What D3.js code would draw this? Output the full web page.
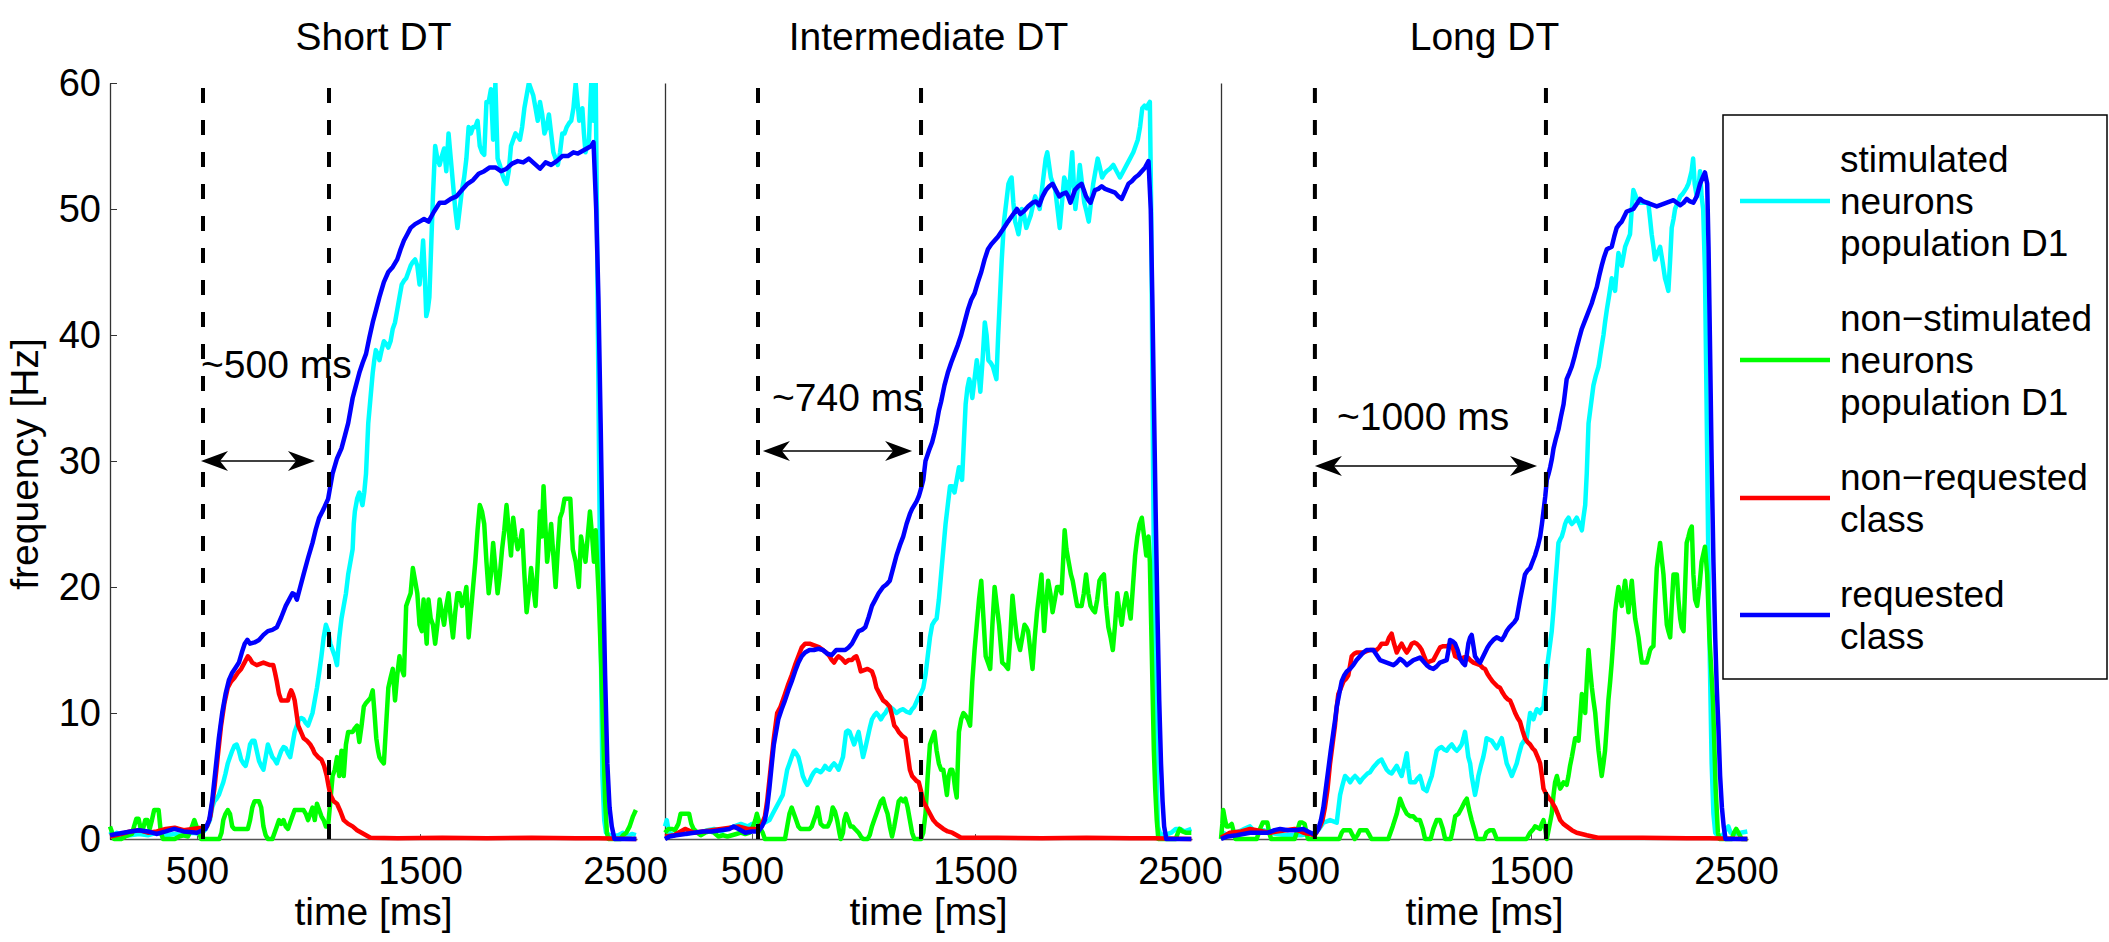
<!DOCTYPE html>
<html lang="en">
<head>
<meta charset="UTF-8" />
<title>Population firing rates for three decision times</title>
<script src="https://d3js.org/d3.v7.min.js"></script>
<style>
  body { margin: 0; background: #fff; }
  svg { display: block; font-family: "Liberation Sans", Arial, Helvetica, sans-serif; }
</style>
</head>
<body>
<svg id="chart" width="2109" height="942"></svg>
<script>
const panelTitles = ["Short DT", "Intermediate DT", "Long DT"];
const timeTicks = [500, 1500, 2500];
const freqTicks = [0, 10, 20, 30, 40, 50, 60];
const legendLabels = [
  ["stimulated", "neurons", "population D1"],
  ["non\u2212stimulated", "neurons", "population D1"],
  ["non\u2212requested", "class"],
  ["requested", "class"]
];
const seriesColors = ["#00ffff", "#00ff00", "#ff0000", "#0000ff"];

// decision-time markers and annotations, one entry per panel
const dtStart = [527, 527, 531];
const dtEnd = [1092, 1258, 1567];
const dtLabels = ["~500 ms", "~740 ms", "~1000 ms"];
const arrowFrom = [518, 549, 531];
const arrowTo = [1029, 1218, 1527];
const arrowFreq = [30, 30.8, 29.6];
const labelTime = [518, 590, 630];
const labelFreq = [36.6, 34, 32.5];

// ---- Short DT ----
const shortStim = [[110,0.6],[125,0.3],[140,0.5],[160,0.2],[200,0.3],[240,0.4],[280,0.3],[320,0.5],[360,0.3],[400,0.4],[440,0.3],[480,0.5],[520,0.4],[540,0.8],[558,1.5],[568,2.5],[578,3],[588,3.2],[598,3.5],[608,4],[618,4.5],[628,5.2],[638,6],[648,6.5],[658,7],[668,7.4],[678,7.5],[688,7],[698,6.3],[708,6],[718,5.8],[728,6.5],[738,7.5],[748,7.8],[758,7.8],[768,7],[778,6.2],[788,5.8],[798,5.5],[808,6.5],[818,7.5],[828,7],[838,6.5],[848,6.3],[858,6],[868,6.5],[878,7],[888,7.3],[898,7.2],[908,6.8],[918,6.5],[928,7.5],[938,8.5],[948,9],[958,9.5],[968,9.6],[978,9.5],[988,9.2],[998,9],[1008,9.5],[1018,10],[1028,11],[1038,12],[1048,13.2],[1058,14.5],[1068,16],[1078,17],[1088,16.5],[1098,15.5],[1108,15],[1118,14.5],[1128,13.8],[1133,15],[1138,16],[1148,17.5],[1158,18.5],[1168,19.5],[1178,21],[1188,22],[1198,23],[1203,25],[1208,26],[1218,27],[1228,27.5],[1235,27],[1242,26.5],[1250,27.5],[1258,29],[1263,31],[1268,33],[1278,35],[1288,37],[1295,38],[1302,38.8],[1310,38.5],[1318,38],[1328,38.8],[1338,39.5],[1348,39.3],[1358,39],[1368,39.5],[1378,40.5],[1388,41],[1398,42],[1408,43],[1418,44],[1428,44.3],[1438,44.5],[1448,45],[1458,45.5],[1468,45.8],[1478,46],[1488,45.5],[1498,44],[1506,45.5],[1514,47.5],[1521,45],[1528,41.5],[1535,42],[1542,43],[1550,47],[1558,51],[1563,53],[1568,55],[1578,54],[1588,53.5],[1598,54.2],[1608,54.8],[1618,53],[1628,56],[1638,54],[1648,52],[1658,50],[1668,48.5],[1678,50],[1688,51.5],[1698,52.5],[1708,54],[1718,56.5],[1728,56],[1738,56.5],[1748,56.5],[1758,57],[1768,55],[1778,54.5],[1788,54.3],[1798,58.5],[1808,58.5],[1818,59.5],[1828,55.5],[1838,60],[1848,54],[1858,53.5],[1868,52.8],[1878,52.3],[1888,52],[1898,53],[1908,55],[1918,55.5],[1928,56],[1938,55.8],[1948,55.5],[1958,56.5],[1968,58],[1978,59],[1988,60],[1998,59.5],[2008,59],[2018,58],[2028,57],[2038,58.5],[2048,57.5],[2058,56],[2068,56.5],[2078,57.5],[2088,56],[2098,54.5],[2108,54],[2118,53.5],[2128,54.5],[2138,56],[2148,56],[2158,56.5],[2168,56.8],[2178,57],[2188,58],[2198,60],[2206,58.5],[2214,57],[2221,57.5],[2228,58],[2235,56],[2242,54.5],[2250,55],[2258,55.5],[2263,58],[2268,60],[2273,58],[2278,57],[2283,59],[2288,60],[2293,50],[2298,40],[2303,30],[2308,20],[2313,12],[2318,5],[2326,1.5],[2334,0.5],[2360,0.2],[2390,0.3],[2410,0.5],[2430,0.2],[2450,0.4],[2468,0.3]];
const shortNonStim = [[110,1],[120,0.5],[128,0],[160,0],[178,0.2],[208,0.4],[218,1],[228,1.6],[238,1.6],[248,0.8],[258,0.8],[268,1.5],[278,1.5],[288,0.8],[298,1.5],[308,2.3],[322,2.3],[328,2.3],[338,0.5],[348,0],[380,0],[400,0],[420,0.2],[440,0.3],[460,0.2],[478,1],[488,1.5],[498,1],[508,0.7],[518,0],[560,0],[600,0],[610,0.5],[618,1.5],[628,2],[638,2.3],[648,2],[658,1],[668,0.8],[688,0.8],[708,0.8],[728,0.8],[738,1.5],[748,2.5],[758,3],[768,3],[778,3],[788,2.5],[798,1],[808,0.3],[818,0],[838,0],[848,0.5],[858,1],[868,1.5],[878,1.2],[888,1.5],[898,1],[908,0.8],[918,1.3],[928,1.8],[938,2.3],[948,2.3],[958,2.3],[968,2.3],[978,2.3],[988,2],[998,1.5],[1008,2],[1018,2.5],[1028,1.5],[1038,2.8],[1048,2.3],[1058,1.8],[1068,1.5],[1078,1],[1088,1],[1098,3],[1108,5],[1118,5.5],[1128,6.5],[1138,5],[1148,7],[1158,5],[1168,7.5],[1178,8.5],[1188,8.5],[1198,8.5],[1208,8.8],[1218,9],[1228,7.7],[1238,9],[1248,10.5],[1258,10.8],[1268,11],[1278,11.2],[1288,11.8],[1296,10],[1304,8],[1312,7],[1318,6.5],[1328,6.2],[1338,6],[1348,9],[1358,12],[1368,12.8],[1378,13.5],[1388,11],[1398,13],[1408,14.5],[1418,13.5],[1428,13],[1438,18.5],[1448,19],[1458,19.5],[1468,21.5],[1478,20.5],[1488,19.5],[1498,17],[1508,16.5],[1516,19],[1524,17],[1530,15.5],[1538,19],[1548,17.5],[1558,17],[1568,15.5],[1578,17],[1588,19],[1598,18],[1608,17],[1618,18.5],[1628,19.5],[1638,17.5],[1648,16],[1658,18],[1668,19.5],[1678,19.5],[1688,18.5],[1698,19],[1708,20],[1718,16],[1728,18],[1738,20],[1748,22],[1758,24.5],[1768,26.5],[1778,26],[1788,25],[1798,22],[1808,19.5],[1818,21],[1828,23.5],[1838,21.5],[1848,19.5],[1858,21],[1868,23],[1878,24.5],[1888,26.5],[1898,24.5],[1908,22.5],[1918,25.5],[1928,24],[1938,23],[1948,23.5],[1958,24.5],[1968,21],[1978,18],[1988,19.5],[1998,21.5],[2008,20],[2018,18.5],[2028,22],[2038,26],[2046,24],[2054,28],[2062,25],[2070,22],[2080,23.5],[2088,25],[2098,22.5],[2108,20],[2118,23],[2128,25.5],[2138,26],[2148,27],[2160,27],[2174,27],[2185,23],[2198,22],[2205,21],[2212,20],[2222,24],[2232,23],[2242,22],[2252,24],[2262,26],[2272,24],[2280,22],[2288,24.5],[2294,22],[2302,19],[2312,14],[2322,8],[2330,3],[2338,0.5],[2345,0],[2400,0],[2410,0.3],[2425,0.5],[2440,1],[2455,1.8],[2468,2.3]];
const shortNonReq = [[110,0.2],[160,0.4],[200,0.6],[240,0.7],[280,0.5],[320,0.6],[360,0.8],[400,0.9],[440,0.7],[480,0.8],[520,0.9],[545,1],[560,1.8],[578,4],[593,6.5],[608,9],[623,10.8],[638,12],[653,12.5],[668,12.8],[683,13.2],[698,13.5],[713,14],[728,14.5],[738,14.3],[748,14],[758,13.9],[768,13.8],[783,13.9],[798,14],[813,13.9],[828,13.8],[842,13.8],[850,13.2],[858,12.5],[868,11.5],[878,11],[893,11],[908,11],[915,11.5],[922,11.8],[930,11.5],[938,11],[946,10],[954,9],[966,8.5],[978,8],[993,7.8],[1008,7.5],[1018,7.2],[1028,6.8],[1043,6.5],[1058,6.3],[1070,5.8],[1082,5],[1090,4.2],[1098,3.5],[1113,3],[1128,2.8],[1143,2.2],[1158,1.5],[1178,1.2],[1198,1],[1218,0.7],[1238,0.5],[1258,0.3],[1278,0.1],[1400,0.05],[1600,0.1],[1800,0.05],[2000,0.1],[2200,0.05],[2300,0.05],[2470,0]];
const shortReq = [[110,0.3],[170,0.5],[238,0.7],[280,0.6],[318,0.4],[360,0.6],[398,0.8],[440,0.6],[500,0.5],[538,0.8],[555,1.5],[568,3],[583,5.5],[598,8],[613,10],[628,11.5],[643,12.6],[658,13.2],[673,13.6],[688,14],[701,14.8],[714,15.5],[726,15.8],[738,15.5],[758,15.6],[778,15.8],[798,16.2],[818,16.5],[838,16.6],[858,16.8],[878,17.6],[898,18.5],[913,19],[928,19.5],[938,19.4],[948,19],[963,20],[978,21],[998,22.3],[1018,23.5],[1033,24.6],[1048,25.5],[1068,26.2],[1088,27],[1098,28],[1108,29],[1128,30.2],[1148,31],[1163,32],[1178,33],[1188,34],[1198,35],[1213,36],[1228,37],[1243,37.8],[1258,38.5],[1273,39.8],[1288,41],[1303,42],[1318,43],[1338,44.2],[1358,45],[1378,45.4],[1398,46],[1413,46.8],[1428,47.5],[1443,48],[1458,48.5],[1478,48.8],[1498,49],[1518,49.2],[1538,49],[1563,49.8],[1588,50.5],[1613,50.5],[1638,50.8],[1663,51],[1688,51.5],[1713,52],[1738,52.3],[1763,52.8],[1788,53],[1813,53.3],[1838,53.3],[1863,53],[1888,53.2],[1913,53.6],[1938,53.8],[1963,53.7],[1988,54],[2013,53.6],[2038,53.2],[2063,53.7],[2088,53.5],[2113,53.8],[2138,54.2],[2163,54.2],[2188,54.5],[2208,54.4],[2228,54.6],[2248,54.8],[2268,55],[2278,55.3],[2290,50],[2300,43],[2310,33],[2320,22],[2330,13],[2340,6],[2350,2.5],[2360,1],[2372,0],[2470,0]];

// ---- Intermediate DT ----
const interStim = [[110,1],[118,1.5],[128,0.5],[150,0.3],[180,0.5],[210,0.4],[240,0.6],[270,0.5],[300,0.7],[330,0.8],[360,0.6],[390,0.8],[420,1],[450,1.2],[480,1],[500,1.2],[520,1.2],[538,1.2],[558,1.3],[578,1.5],[593,2],[608,2.5],[623,3],[638,3.5],[648,4.5],[658,5.5],[668,6],[678,6.5],[688,7],[698,6.8],[708,6.5],[718,5.8],[728,5],[738,4.6],[748,4.3],[758,4.6],[768,5],[778,5.3],[788,5.5],[798,5.4],[808,5.3],[818,5.5],[828,5.8],[838,5.6],[848,5.5],[858,5.8],[868,6],[878,5.8],[888,5.5],[898,6],[908,6.5],[915,7.5],[922,8.5],[930,8.6],[938,8.5],[948,8],[958,7.5],[968,8],[978,8.5],[988,7.5],[998,6.5],[1008,7.2],[1018,8],[1028,8.8],[1038,9.5],[1048,9.8],[1058,10],[1068,9.8],[1078,9.5],[1088,9.8],[1098,10],[1108,10.3],[1118,10.5],[1133,10.3],[1148,10],[1163,10.2],[1178,10.3],[1193,10.1],[1208,10],[1218,10.3],[1228,10.5],[1238,10.9],[1248,11.3],[1258,11.6],[1268,12],[1278,13],[1288,14.5],[1298,16],[1308,17],[1318,17.3],[1328,17.5],[1338,19],[1348,21],[1358,23],[1368,25],[1378,26.5],[1388,28],[1398,28],[1408,27.5],[1418,28.5],[1428,29.5],[1435,29],[1442,28.5],[1450,31.5],[1458,34.5],[1466,35.8],[1474,36.5],[1481,36],[1488,35],[1498,36.5],[1508,38],[1516,37],[1524,35.5],[1534,38],[1544,41],[1552,40],[1560,38],[1570,37.8],[1580,37.5],[1588,37],[1596,36.5],[1604,40],[1612,43],[1620,46],[1630,49],[1640,50.5],[1650,52],[1657,52.3],[1664,52.5],[1672,50.5],[1680,49],[1688,48.5],[1695,48],[1703,49],[1710,50],[1720,49.5],[1730,48.5],[1740,49],[1750,49.5],[1760,50.3],[1770,51],[1780,50.5],[1790,50],[1800,51.5],[1810,53],[1817,54],[1824,54.5],[1832,53.5],[1840,52.5],[1850,52],[1860,51.5],[1870,50],[1880,48.5],[1890,50.5],[1900,52.5],[1910,52],[1920,51],[1928,52.8],[1936,54.5],[1943,52],[1950,50],[1960,51.5],[1970,53.5],[1980,52],[1990,50.5],[2000,49.8],[2010,49],[2020,50.5],[2030,52],[2040,53],[2050,54],[2060,53.3],[2070,52.5],[2080,52.8],[2090,53],[2105,53.2],[2120,53.5],[2135,53],[2150,52.5],[2165,53],[2180,53.5],[2195,54],[2210,54.5],[2220,55],[2230,55.5],[2240,56.5],[2250,58],[2260,58.2],[2270,58],[2277,58.3],[2284,58.5],[2290,50],[2296,35],[2303,20],[2310,10],[2316,4],[2320,1],[2330,0.4],[2350,0.3],[2380,0.5],[2400,0.8],[2420,0.8],[2440,0.6],[2470,0.8]];
const interNonStim = [[110,0.5],[125,0.8],[140,0.8],[155,0.7],[170,1.2],[180,2],[190,2],[205,2],[218,2],[228,1.2],[238,0.8],[255,0.5],[270,0.3],[290,0.5],[310,0.6],[330,0.5],[350,0.2],[370,0.3],[390,0.2],[410,0.3],[430,0.4],[450,0.5],[470,0.4],[490,0.5],[505,1],[515,1.5],[522,2],[530,1.5],[538,0.8],[548,0.5],[558,0],[578,0],[610,0],[648,0],[658,1],[668,2],[678,2.5],[688,2],[698,1.5],[708,1],[718,0.8],[738,0.8],[758,0.8],[768,1],[778,1.5],[788,2],[794,2.5],[800,2],[808,1.2],[820,1],[840,1],[852,1.5],[862,2.5],[872,2.2],[882,1.5],[892,0.5],[898,0],[908,0.5],[914,1.5],[922,2],[932,1.5],[942,1],[952,1],[962,0.8],[978,0.5],[988,0.2],[998,0],[1018,0],[1028,0.3],[1038,1],[1048,1.5],[1058,2],[1068,2.5],[1078,3],[1088,3.2],[1098,2.5],[1108,2],[1118,1],[1128,0.2],[1138,1],[1148,2],[1158,3],[1168,3.2],[1178,3],[1188,3.2],[1198,2.5],[1208,1.5],[1218,0.5],[1228,0],[1258,0],[1268,0.5],[1278,2],[1288,5],[1298,7.5],[1308,8],[1318,8.5],[1328,7],[1338,6],[1348,5.5],[1358,5.5],[1366,4.5],[1374,3.5],[1382,5],[1390,5.5],[1398,5.5],[1404,5],[1411,4],[1418,3.3],[1423,6],[1428,8.5],[1438,9.5],[1448,10],[1458,9.8],[1468,9.5],[1478,9],[1488,12.5],[1498,15],[1508,17],[1518,19],[1528,20.5],[1538,17.5],[1548,14.5],[1558,14],[1568,13.5],[1578,17],[1588,20],[1598,18.5],[1608,17],[1615,15.5],[1622,14],[1635,13.8],[1648,13.5],[1658,16],[1668,19.3],[1678,17.5],[1688,16],[1702,15],[1712,16],[1722,17],[1730,16.8],[1738,16.5],[1748,15],[1758,13.5],[1768,16],[1778,18],[1788,19.5],[1798,21],[1804,18.5],[1810,16.5],[1818,18.5],[1828,20.5],[1838,19.5],[1848,18],[1858,19],[1868,20],[1878,20],[1888,19.5],[1895,22],[1902,24.5],[1910,23],[1920,22],[1930,21],[1938,20.5],[1948,19.5],[1958,18.5],[1968,18.5],[1978,18.5],[1988,19.5],[1998,21],[2008,19.5],[2018,18.5],[2028,18.2],[2038,18],[2048,19],[2058,20.5],[2068,20.8],[2078,21],[2088,18.5],[2098,16.8],[2108,16],[2118,15],[2128,17],[2138,19.5],[2148,18],[2158,17],[2168,18.5],[2178,19.5],[2188,18.5],[2198,17.5],[2208,20],[2218,22.5],[2228,24],[2238,25],[2248,25.5],[2258,24],[2268,22.5],[2278,24],[2284,22],[2290,17],[2296,12],[2302,7],[2308,4],[2315,1.5],[2322,0],[2400,0],[2410,0.5],[2418,0.8],[2430,0.6],[2445,0.5],[2470,0.5]];
const interNonReq = [[110,0.2],[150,0.3],[200,0.8],[240,0.5],[280,0.6],[320,0.7],[360,0.8],[400,0.9],[440,1],[480,0.8],[520,0.8],[545,1.2],[558,1.8],[568,3],[583,5.5],[598,8],[613,10],[628,10.5],[648,11.5],[663,12.3],[678,13],[693,13.8],[708,14.5],[723,15.2],[738,15.5],[758,15.5],[773,15.4],[788,15.3],[803,15.2],[818,15],[833,14.8],[848,14.5],[858,14.2],[868,14],[878,14.3],[888,14.5],[903,14.3],[918,14],[933,14.2],[948,14.2],[958,14.4],[968,14.5],[978,14],[988,13.3],[1003,13.4],[1018,13.5],[1028,13.4],[1038,13.3],[1048,12.8],[1058,12],[1073,11.5],[1088,11],[1103,10.8],[1118,10.5],[1128,9.8],[1138,9],[1148,8.8],[1158,8.5],[1173,8.2],[1188,8],[1198,6.8],[1208,5.5],[1218,5],[1228,4.8],[1238,4.6],[1248,4.5],[1258,3.8],[1268,3],[1283,2.5],[1298,2],[1313,1.5],[1328,1.2],[1343,1],[1358,0.8],[1378,0.6],[1398,0.5],[1418,0.3],[1438,0.1],[1600,0.1],[1800,0.05],[2000,0.1],[2200,0.05],[2300,0.05],[2470,0]];
const interReq = [[110,0],[130,0.2],[160,0.3],[200,0.4],[240,0.5],[280,0.6],[320,0.6],[360,0.7],[400,0.8],[418,1],[440,0.8],[470,0.5],[500,0.6],[528,0.6],[545,1],[558,1.5],[568,2.5],[578,4],[588,5.8],[598,7.5],[608,8.5],[618,9.5],[633,10.3],[648,11],[663,11.8],[678,12.5],[693,13.3],[708,14],[723,14.5],[738,14.8],[758,15],[778,15],[798,15.1],[818,15],[838,14.7],[858,14.6],[878,15],[898,15],[918,15],[933,15.2],[948,15.5],[963,16],[978,16.5],[993,16.6],[1008,16.8],[1023,17.6],[1038,18.5],[1053,19],[1068,19.5],[1088,20],[1103,20.2],[1118,20.5],[1133,21.5],[1148,22.5],[1163,23.3],[1178,24],[1193,25],[1208,25.8],[1218,26.2],[1228,26.5],[1238,26.8],[1248,27.2],[1258,27.8],[1268,28.5],[1278,30],[1293,30.8],[1308,31.5],[1318,32.2],[1328,33],[1338,34],[1348,34.7],[1363,36],[1378,37],[1393,37.8],[1408,38.5],[1423,39.2],[1438,40],[1453,41],[1468,42],[1483,42.8],[1498,43.3],[1513,44.2],[1528,45],[1543,46],[1558,46.8],[1573,47.2],[1588,47.5],[1603,47.8],[1618,48.2],[1633,48.6],[1648,49],[1668,49.5],[1688,50],[1703,49.6],[1718,49.8],[1738,50.2],[1758,50.5],[1773,50.6],[1788,50.3],[1803,51],[1818,51.5],[1833,51.8],[1848,52],[1863,51.5],[1878,51],[1893,51.2],[1908,51.3],[1918,51],[1928,50.5],[1938,51],[1948,51.5],[1963,51.8],[1978,52],[1988,51.5],[1998,51],[2008,50.7],[2018,50.5],[2028,51],[2038,51.5],[2053,51.6],[2068,51.8],[2083,51.6],[2098,51.5],[2113,51.4],[2128,51.3],[2143,51],[2158,50.8],[2173,51.4],[2188,52],[2203,52.2],[2218,52.5],[2233,52.7],[2248,53],[2263,53.3],[2278,53.8],[2288,50],[2295,43],[2302,35],[2310,26],[2318,18],[2326,11],[2334,6],[2341,3],[2348,1],[2358,0],[2470,0]];

// ---- Long DT ----
const longStim = [[110,0],[120,0.5],[140,0.3],[160,0.5],[190,0.6],[215,0.8],[240,1],[260,0.6],[285,0.7],[300,0.7],[330,0.5],[360,0.4],[400,0.3],[440,0.3],[470,0.3],[500,0.4],[530,0.4],[550,0.8],[569,1.3],[585,1.4],[599,1.5],[614,1.4],[629,1.3],[637,2.5],[644,3.5],[655,4.3],[666,5],[678,4.8],[689,4.5],[700,4.8],[711,5],[722,4.8],[733,4.5],[745,4.8],[756,5],[767,5.2],[778,5.3],[793,5.7],[808,6],[819,6.2],[830,6.3],[841,5.9],[853,5.5],[864,5.3],[875,5.2],[886,5.5],[898,5.8],[909,5.4],[920,5],[932,5.9],[943,6.8],[950,5.6],[958,4.5],[969,4.5],[980,4.5],[991,4.8],[1002,5],[1010,4.5],[1017,4],[1025,3.9],[1032,3.8],[1043,4.4],[1055,5],[1066,6],[1077,7],[1088,7.2],[1099,7.3],[1110,7.1],[1122,7],[1133,7.3],[1145,7.5],[1156,7.2],[1167,7],[1178,7.2],[1189,7.5],[1197,8],[1204,8.5],[1212,7.5],[1219,6.5],[1227,6],[1234,5],[1242,4.2],[1249,3.5],[1257,4.2],[1264,5],[1275,5.8],[1286,6.5],[1294,7.2],[1301,8],[1312,7.9],[1324,7.8],[1335,7.5],[1346,7.2],[1358,7.6],[1369,8],[1380,7],[1391,6],[1403,5.5],[1414,5],[1425,5.5],[1436,6],[1447,6.8],[1458,7.5],[1469,7.8],[1481,8],[1488,9],[1496,10],[1503,9.8],[1511,9.5],[1518,9.9],[1526,10.3],[1533,10.2],[1541,10],[1548,10.3],[1556,10.5],[1564,12],[1571,13.5],[1582,15],[1593,16.5],[1601,18.2],[1608,20],[1616,21.8],[1623,23.5],[1631,23.8],[1638,24],[1646,24.5],[1653,25],[1660,25.3],[1668,25.5],[1675,25.2],[1683,25],[1694,25.2],[1705,25.5],[1717,25],[1728,24.5],[1735,25.5],[1743,26.5],[1750,29],[1758,33],[1769,34.5],[1780,36],[1791,36.8],[1803,37.5],[1814,38.8],[1825,40],[1832,41],[1840,42],[1851,43.2],[1862,44.5],[1870,44],[1877,43.5],[1884,45],[1892,46.5],[1900,46],[1907,45.5],[1914,46.2],[1922,47],[1933,47.5],[1944,48],[1951,49.8],[1959,51.5],[1970,51],[1982,50.5],[1993,50.5],[2004,50.5],[2015,50.5],[2026,50.5],[2034,49.2],[2041,48],[2049,47],[2056,46],[2067,46.5],[2079,47],[2090,45.8],[2101,44.5],[2109,44],[2116,43.5],[2124,46],[2131,48.5],[2139,49.2],[2146,50],[2158,50.5],[2169,51],[2180,51.2],[2191,51.5],[2198,51.7],[2206,52],[2213,52.5],[2220,53],[2227,54],[2234,52],[2243,51],[2250,51.5],[2258,53],[2265,51],[2272,50],[2280,45],[2287,35],[2294,24],[2302,14],[2310,6],[2318,2],[2326,0.5],[2340,0.2],[2360,0.3],[2375,0.8],[2385,1],[2395,0.5],[2410,0.4],[2440,0.5],[2470,0.6]];
const longNonStim = [[110,0],[116,1.2],[120,2.3],[128,1.5],[135,1],[145,1],[158,1.2],[168,0.5],[175,0],[270,0],[285,0.8],[297,1.3],[307,1.3],[318,1.3],[326,0.5],[335,0],[440,0],[451,0.6],[463,1.3],[475,1.3],[485,1.2],[493,0.5],[500,0],[640,0],[651,0.5],[659,0.7],[674,0.7],[689,0.7],[700,0.3],[710,0],[722,0.3],[733,0.7],[748,0.7],[763,0.7],[776,0.3],[785,0],[860,0],[880,1],[898,2],[913,3.2],[928,2.5],[943,2],[958,1.8],[972,1.8],[987,1.5],[1002,1.5],[1015,0.8],[1025,0],[1050,0],[1062,0.8],[1077,1.5],[1092,1.5],[1105,0.8],[1115,0],[1140,0],[1150,0.8],[1160,1.8],[1175,2],[1190,2.5],[1204,3],[1212,3.2],[1224,2.2],[1234,1.5],[1242,1],[1250,0.5],[1257,0],[1290,0],[1300,0.5],[1316,0.7],[1331,0.7],[1340,0.3],[1346,0],[1480,0],[1496,0.5],[1511,0.8],[1518,1],[1530,0.9],[1541,0.8],[1548,1.2],[1556,1.5],[1564,0.8],[1571,0],[1582,1],[1593,2],[1601,3.5],[1608,4.5],[1616,5],[1623,4.5],[1631,4],[1638,4.2],[1646,4.5],[1653,4.4],[1660,4.3],[1668,5],[1675,5.8],[1683,6.5],[1690,7.2],[1698,8],[1705,8],[1713,7.8],[1720,9.5],[1728,11.5],[1735,11],[1743,10],[1750,12.5],[1758,15],[1765,13.5],[1773,12],[1780,11],[1788,10],[1795,8.5],[1803,7],[1810,6],[1817,5],[1825,6],[1832,7],[1840,9],[1847,11],[1855,12.5],[1862,14],[1870,16],[1877,18],[1884,19],[1892,20],[1900,19.2],[1907,18.5],[1914,19.5],[1922,20.5],[1929,19.3],[1937,18],[1944,19.2],[1952,20.5],[1959,19],[1967,17.5],[1974,16.8],[1982,16],[1989,15],[1997,14],[2008,14],[2019,14],[2027,14.5],[2034,15],[2041,15.2],[2049,15.3],[2056,18.5],[2064,21.5],[2071,22.5],[2079,23.5],[2086,22.3],[2094,21],[2101,19],[2109,17],[2116,16.5],[2124,16],[2131,18.5],[2139,21],[2146,21],[2154,21],[2161,19],[2169,17.5],[2176,16.8],[2184,16.5],[2191,20],[2198,23.5],[2206,24],[2213,24.5],[2221,24.8],[2228,21],[2236,19],[2245,18.5],[2255,20],[2265,22],[2280,23.2],[2290,21],[2300,16],[2316,11],[2328,4],[2338,0.5],[2345,0],[2400,0],[2410,0.5],[2420,0.8],[2430,0.5],[2445,0],[2470,0]];
const longNonReq = [[110,0.1],[150,0.5],[200,0.6],[240,0.8],[270,0.7],[300,0.6],[330,0.5],[360,0.6],[400,0.7],[440,0.8],[480,0.5],[510,0.4],[530,0.3],[554,1],[565,1.5],[576,2.5],[588,4],[599,6],[610,7.5],[621,9],[629,10.5],[636,11.5],[648,12],[659,12.5],[670,12.7],[681,13],[689,13.8],[696,14.5],[707,14.7],[718,14.8],[733,14.8],[748,14.8],[763,14.9],[778,15],[793,15],[808,15],[819,15.2],[830,15.5],[841,15.5],[853,15.5],[864,16],[875,16.3],[886,15.5],[898,14.8],[909,15.2],[920,15.5],[932,15.1],[943,14.8],[954,15.1],[965,15.5],[977,15.6],[988,15.5],[999,15.3],[1010,15],[1021,14.5],[1032,14],[1047,14.1],[1062,14.2],[1077,14.7],[1092,15.2],[1107,15.3],[1122,15.3],[1133,15.4],[1145,15.5],[1152,15],[1160,14.5],[1171,14.4],[1182,14.3],[1197,14.4],[1212,14.5],[1227,14.2],[1242,14],[1257,13.9],[1272,13.8],[1283,13.6],[1294,13.5],[1305,13.1],[1316,12.8],[1328,12.5],[1339,12.3],[1350,12.1],[1361,12],[1373,11.6],[1384,11.3],[1395,11.1],[1406,11],[1418,10.5],[1429,10],[1440,9.6],[1451,9.3],[1462,8.6],[1473,8],[1484,7.7],[1496,7.5],[1507,7.2],[1518,7],[1530,6.5],[1541,6],[1549,5],[1556,4],[1564,3.7],[1571,3.5],[1582,3.2],[1593,3],[1601,2.7],[1608,2.5],[1620,2],[1631,1.5],[1645,1.2],[1660,1],[1683,0.7],[1705,0.5],[1728,0.4],[1750,0.3],[1800,0.1],[2000,0.1],[2200,0.05],[2300,0.05],[2470,0]];
const longReq = [[110,0],[140,0.2],[180,0.3],[210,0.4],[240,0.5],[280,0.5],[320,0.5],[350,0.7],[375,0.8],[410,0.7],[440,0.7],[479,0.8],[500,0.6],[524,0.4],[537,0.5],[547,0.8],[558,1.5],[569,2.5],[580,4],[591,5.5],[602,7],[614,8.5],[622,9.5],[629,10.5],[640,11.5],[651,12.5],[663,13],[674,13.3],[688,13.5],[703,13.8],[718,14.2],[733,14.5],[748,14.8],[763,15],[778,15],[793,15],[808,14.6],[823,14.2],[838,14.1],[853,14],[868,13.9],[883,13.8],[898,14],[913,14.3],[928,14.1],[943,13.8],[958,14],[973,14.2],[988,14.3],[1002,14.4],[1017,14.1],[1032,13.8],[1047,13.6],[1062,13.5],[1077,13.7],[1092,14],[1107,14.1],[1122,14.2],[1130,15],[1137,15.8],[1148,15.7],[1160,15.5],[1171,15],[1182,14.3],[1193,14],[1204,13.8],[1212,14.6],[1219,15.5],[1227,16],[1234,16.2],[1242,15.3],[1249,14.5],[1260,14.2],[1272,14],[1283,14.4],[1294,14.8],[1305,15.2],[1316,15.5],[1331,15.8],[1346,16],[1358,15.9],[1369,15.8],[1380,16.1],[1391,16.5],[1403,16.8],[1414,17],[1425,17.2],[1436,17.5],[1443,18.2],[1451,19],[1462,20],[1473,21],[1484,21.3],[1496,21.5],[1507,22],[1518,22.5],[1530,23.2],[1541,24],[1549,25],[1556,26],[1564,27.2],[1571,28.5],[1579,29],[1586,29.5],[1594,30.2],[1601,31],[1612,31.8],[1623,32.5],[1634,33.5],[1646,34.5],[1653,35.5],[1660,36.5],[1672,37],[1683,37.5],[1694,38.2],[1705,39],[1717,39.8],[1728,40.5],[1739,41],[1750,41.5],[1761,42],[1772,42.5],[1784,43.2],[1795,43.8],[1806,44.7],[1817,45.5],[1828,46.2],[1840,46.8],[1851,46.9],[1862,47],[1873,47.8],[1884,48.5],[1896,48.8],[1907,49],[1918,49.4],[1929,49.8],[1944,49.9],[1959,50],[1974,50.4],[1989,50.8],[2004,50.6],[2019,50.5],[2034,50.4],[2049,50.3],[2064,50.2],[2079,50.3],[2094,50.4],[2109,50.5],[2124,50.6],[2139,50.7],[2154,50.5],[2169,50.3],[2184,50.5],[2198,50.8],[2213,50.6],[2228,50.5],[2243,51],[2258,52],[2270,52.5],[2280,52.9],[2290,52],[2296,47],[2302,40],[2310,30],[2318,22],[2326,16],[2333,12],[2340,9],[2348,5],[2356,2.5],[2364,1],[2372,0],[2470,0]];

const panelSeries = [
  [shortStim, shortNonStim, shortNonReq, shortReq],
  [interStim, interNonStim, interNonReq, interReq],
  [longStim, longNonStim, longNonReq, longReq]
];

const svg = d3.select("#chart");
const panelLeft = [110, 665, 1221];
const panelWidth = 527;
const plotTop = 83, plotBottom = 839;

svg.append("rect").attr("width", 2109).attr("height", 942).attr("fill", "#fff");

const y = d3.scaleLinear().domain([0, 60]).range([plotBottom, plotTop]);

panelTitles.forEach((title, i) => {
  const x = d3.scaleLinear()
    .domain([110, 2473])
    .range([panelLeft[i], panelLeft[i] + panelWidth]);
  const g = svg.append("g");

  g.append("clipPath").attr("id", "clip" + i)
    .append("rect")
    .attr("x", panelLeft[i] - 6).attr("y", plotTop)
    .attr("width", panelWidth + 12).attr("height", plotBottom - plotTop + 8);

  // x axis
  const xAxis = d3.axisBottom(x)
    .tickValues(timeTicks)
    .tickSizeInner(-5)
    .tickSizeOuter(0)
    .tickPadding(18)
    .tickFormat(d3.format("d"));
  const xg = g.append("g")
    .attr("transform", `translate(0,${plotBottom})`)
    .call(xAxis);
  xg.select(".domain").attr("stroke", "#555").attr("stroke-width", 1.5);
  xg.selectAll(".tick line").attr("stroke", "#555");
  xg.selectAll(".tick text").attr("font-size", 38).attr("fill", "#000")
    .attr("font-family", "Liberation Sans, Arial, sans-serif");
  // last label sits just inside the axis end
  xg.selectAll(".tick").filter(d => d > x.domain()[1]).select("line").remove();
  xg.selectAll(".tick text").filter(d => d > x.domain()[1]).attr("dx", -18);

  // y axis (labels only on the first panel)
  const yAxis = d3.axisLeft(y)
    .tickValues(i === 0 ? freqTicks : [])
    .tickSizeInner(-7)
    .tickSizeOuter(0)
    .tickPadding(9);
  const yg = g.append("g")
    .attr("transform", `translate(${panelLeft[i]},0)`)
    .call(yAxis);
  yg.select(".domain").attr("stroke", "#333").attr("stroke-width", 1.3);
  yg.selectAll(".tick line").attr("stroke", "#333");
  yg.selectAll(".tick text").attr("font-size", 38).attr("fill", "#000")
    .attr("font-family", "Liberation Sans, Arial, sans-serif");

  // series
  const line = d3.line().x(d => x(d[0])).y(d => y(d[1]));
  g.append("g").attr("clip-path", `url(#clip${i})`)
    .selectAll("path")
    .data(panelSeries[i])
    .join("path")
    .attr("d", line)
    .attr("fill", "none")
    .attr("stroke", (d, k) => seriesColors[k])
    .attr("stroke-width", 4.5)
    .attr("stroke-linejoin", "round");

  // dashed decision-time markers
  g.selectAll(".dt")
    .data([dtStart[i], dtEnd[i]])
    .join("line")
    .attr("x1", d => x(d)).attr("x2", d => x(d))
    .attr("y1", y(60)).attr("y2", y(0))
    .attr("stroke", "#000")
    .attr("stroke-width", 4)
    .attr("stroke-dasharray", "15 17")
    .attr("stroke-dashoffset", 27);

  // double arrow
  const ax1 = x(arrowFrom[i]), ax2 = x(arrowTo[i]), ay = y(arrowFreq[i]);
  g.append("line")
    .attr("x1", ax1 + 4).attr("x2", ax2 - 4)
    .attr("y1", ay).attr("y2", ay)
    .attr("stroke", "#000").attr("stroke-width", 1.5);
  const head = "M0,0 L27,-10 L19,0 L27,10 Z";
  g.append("path").attr("d", head).attr("fill", "#000")
    .attr("transform", `translate(${ax1},${ay})`);
  g.append("path").attr("d", head).attr("fill", "#000")
    .attr("transform", `translate(${ax2},${ay}) scale(-1,1)`);

  g.append("text")
    .attr("x", x(labelTime[i]))
    .attr("y", y(labelFreq[i]))
    .attr("font-size", 39)
    .text(dtLabels[i]);

  // title and x label
  const cx = panelLeft[i] + panelWidth / 2;
  g.append("text")
    .attr("x", cx).attr("y", 50)
    .attr("text-anchor", "middle")
    .attr("font-size", 39)
    .text(title);
  g.append("text")
    .attr("x", cx).attr("y", 925)
    .attr("text-anchor", "middle")
    .attr("font-size", 39)
    .text("time [ms]");
});

svg.append("text")
  .attr("transform", "translate(38,464) rotate(-90)")
  .attr("text-anchor", "middle")
  .attr("font-size", 39)
  .text("frequency [Hz]");

// legend
const legend = svg.append("g");
legend.append("rect")
  .attr("x", 1723).attr("y", 115)
  .attr("width", 384).attr("height", 564)
  .attr("fill", "#fff").attr("stroke", "#000").attr("stroke-width", 1.5);

const lineH = 42;
let entryY = 201;
legendLabels.forEach((rows, k) => {
  if (k > 0) entryY += (legendLabels[k - 1].length + rows.length) * lineH / 2 + 33;
  legend.append("line")
    .attr("x1", 1740).attr("x2", 1830)
    .attr("y1", entryY).attr("y2", entryY)
    .attr("stroke", seriesColors[k]).attr("stroke-width", 4.5);
  const first = entryY - (rows.length - 1) * lineH / 2 + 12.5;
  legend.append("g").selectAll("text")
    .data(rows)
    .join("text")
    .attr("x", 1840)
    .attr("y", (d, r) => first + r * lineH)
    .attr("font-size", 37)
    .text(d => d);
});
</script>
</body>
</html>
